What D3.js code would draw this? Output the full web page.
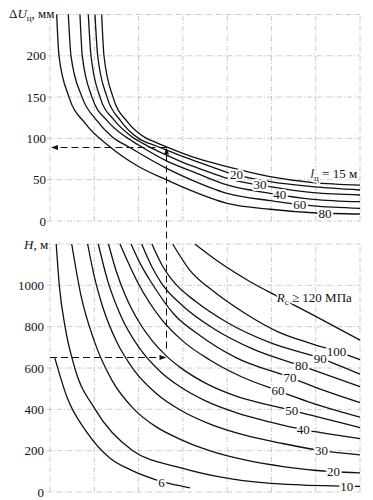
<!DOCTYPE html>
<html><head><meta charset="utf-8">
<script src="https://cdn.jsdelivr.net/npm/d3@7"></script>
<style>
body{margin:0;background:#fff;}
svg text{font-family:"Liberation Serif","Times New Roman",serif;fill:#111;}
</style></head><body>
<svg id="c" width="373" height="500"></svg>
<script>
// ---- data ----
const gridX = [0,1,2,3,4,5,6,7];
const duTicks = [0,50,100,150,200];
const duGrid = [0,50,100,150,200,250];
const hTicks = [0,200,400,600,800,1000];
const hGrid = [0,200,400,600,800,1000,1200];

const lNames = ["15","20","30","40","60","80"];
const l15 = [[1.167,250],[1.219,200],[1.422,150],[1.75,120],[2.15,101],[2.4,95],[2.619,90],[3.2,78],[3.6,71.5],[4.0,65.7],[4.97,53.6],[5.94,46.4],[7,43.5]];
const l20 = [[1.016,250],[1.077,200],[1.287,150],[1.6,121],[2.0,100],[2.4,90.8],[2.62,86],[3.1,76],[3.6,66.5],[4.0,59],[4.97,47.6],[5.94,41.5],[7,37.5]];
const l30 = [[0.865,250],[0.926,200],[1.129,150],[1.45,122],[1.85,102],[2.2,91],[2.62,80],[3.0,71],[3.5,61],[4.0,51.7],[4.97,41.5],[5.94,34.3],[7,31.5]];
const l40 = [[0.677,250],[0.729,200],[0.948,150],[1.3,121],[1.65,104],[2.0,92],[2.62,73],[3.3,58],[4.0,43.6],[4.97,33.5],[5.94,26.3],[7,23.4]];
const l60 = [[0.414,250],[0.474,200],[0.723,150],[1.05,122],[1.4,102],[1.8,89],[2.62,64],[3.1,52],[4.0,33.5],[4.97,24.6],[5.94,18.2],[7,15.3]];
const l80 = [[0.151,250],[0.203,200],[0.429,150],[0.8,118],[1.35,90],[2.0,66],[2.62,50],[3.0,41],[4.0,21.4],[4.97,14.2],[5.94,10],[7,8.5]];
const lCurves = [l15,l20,l30,l40,l60,l80];
const lLabels = [["20",4.21,56.5],["30",4.74,43.8],["40",5.19,31.8],["60",5.64,20.2],["80",6.21,9.6]];

const rNames = ["6","10","20","30","40","50","60","70","80","90","100","120"];
const r6   = [[0.11,648],[0.38,461],[0.83,290],[1.35,165],[1.81,108],[2.41,58],[2.71,40],[3.16,20]];
const r10  = [[0.14,1200],[0.21,1000],[0.34,800],[0.56,600],[1.02,400],[1.87,200],[2.94,118],[4.13,62],[5.26,38],[6.7,28],[7,27]];
const r20  = [[0.49,1200],[0.7,950],[1.0,730],[1.4,540],[1.9,400],[2.4,315],[2.94,255],[3.6,200],[4.4,155],[5.3,122],[6.4,98],[7,93]];
const r30  = [[0.85,1200],[1.0,1043],[1.2,889],[1.5,729],[1.9,589],[2.4,477],[2.94,397],[3.6,330],[4.4,275],[5.2,237],[6.13,200],[7,180]];
const r40  = [[1.09,1200],[1.3,1024],[1.6,852],[2.0,702],[2.5,581],[2.94,509],[3.5,442],[4.2,384],[5.0,337],[5.72,302],[6.4,278],[7,258]];
const r50  = [[1.32,1200],[1.5,1066],[1.69,957],[2.0,826],[2.3,734],[2.62,660],[2.94,603],[3.5,528],[4.2,464],[5.0,418],[5.46,395],[6.2,355],[7,312]];
const r60  = [[1.58,1200],[1.99,1010],[2.5,840],[3.0,730],[3.6,640],[4.3,560],[5.15,490],[6.1,418],[7,362]];
const r70  = [[1.83,1200],[2.05,1100],[2.3,1010],[2.8,860],[3.4,755],[4.2,650],[5.42,555],[6.2,490],[7,432]];
const r80  = [[2.07,1200],[2.3,1090],[2.52,1010],[3.0,900],[3.7,790],[4.6,690],[5.68,610],[7,510]];
const r90  = [[2.3,1200],[2.55,1090],[2.78,1020],[3.3,920],[4.0,820],[5.0,720],[6.1,648],[7,570]];
const r100 = [[2.77,1200],[3.15,1075],[3.7,970],[4.4,865],[5.15,775],[5.9,718],[6.47,680],[7,640]];
const r120 = [[3.27,1200],[3.8,1115],[4.5,1020],[5.2,940],[6.0,850],[7,735]];
const rCurves = [r6,r10,r20,r30,r40,r50,r60,r70,r80,r90,r100,r120];
const rLabels = [["6",2.52,46],["10",6.70,28],["20",6.40,98],["30",6.13,200],["40",5.72,302],["50",5.46,395],["60",5.15,490],["70",5.42,555],["80",5.68,610],["90",6.10,648],["100",6.47,680]];

const example = {x:2.62, du:90, h:655};

// ---- drawing ----
const svg = d3.select("#c");
const x  = d3.scaleLinear().domain([0,7]).range([50,360]);
const yT = d3.scaleLinear().domain([0,250]).range([221,14.5]);
const yB = d3.scaleLinear().domain([0,1200]).range([492,244]);
const gridColor = "#bdbdbd";
const gridDash = "5,2,1,2";

function drawGrid(y, hvals, topVal, topStart){
  const g = svg.append("g");
  g.selectAll("line.h").data(hvals).join("line")
    .attr("x1", d => d===topVal ? topStart : 47).attr("x2", x(7))
    .attr("y1", d => y(d)).attr("y2", d => y(d))
    .attr("stroke", gridColor).attr("stroke-width",0.8).attr("stroke-dasharray", gridDash);
  g.selectAll("line.v").data(gridX).join("line")
    .attr("x1", d => x(d)).attr("x2", d => x(d))
    .attr("y1", y(hvals[0])).attr("y2", y(topVal))
    .attr("stroke", gridColor).attr("stroke-width",0.8).attr("stroke-dasharray", gridDash);
}
drawGrid(yT, duGrid, 250, 56);
drawGrid(yB, hGrid, 1200, 46);

function axis(y, ticks, xoff){
  const a = svg.append("g").attr("transform",`translate(${xoff},0)`)
    .call(d3.axisLeft(y).tickValues(ticks).tickSize(0).tickPadding(0).tickFormat(d3.format("d")));
  a.select(".domain").remove();
  a.selectAll("text").attr("font-family",'"Liberation Serif",serif').attr("font-size",13).attr("fill","#111");
}
axis(yT, duTicks, 46);
axis(yB, hTicks, 44);

const lineT = d3.line().x(d=>x(d[0])).y(d=>yT(d[1])).curve(d3.curveMonotoneX);
const lineB = d3.line().x(d=>x(d[0])).y(d=>yB(d[1])).curve(d3.curveMonotoneX);

svg.append("g").selectAll("path").data(lCurves).join("path")
  .attr("d", lineT).attr("fill","none").attr("stroke","#111").attr("stroke-width",1.3);
svg.append("g").selectAll("path").data(rCurves).join("path")
  .attr("d", lineB).attr("fill","none").attr("stroke","#111").attr("stroke-width",1.3);

// curve labels with white halo (interrupt lines)
function labels(data, y){
  svg.append("g").selectAll("text").data(data).join("text")
    .attr("x", d=>x(d[1])).attr("y", d=>y(d[2]))
    .attr("text-anchor","middle").attr("dominant-baseline","central")
    .attr("font-size",13)
    .attr("stroke","#fff").attr("stroke-width",4).attr("paint-order","stroke")
    .text(d=>d[0]);
}
labels(lLabels, yT);
labels(rLabels, yB);

// example dashed path
const dash = "7,4";
const ex = Math.round(x(example.x)) + 0.5, eyT = Math.round(yT(example.du)) + 0.5, eyB = Math.round(yB(example.h)) + 0.5;
const dg = svg.append("g").attr("stroke","#111").attr("stroke-width",1).attr("stroke-dasharray",dash).attr("fill","none");
dg.append("line").attr("x1",x(0)).attr("x2",ex-5).attr("y1",eyB).attr("y2",eyB);
dg.append("line").attr("x1",ex).attr("x2",ex).attr("y1",eyB-9).attr("y2",eyT+5);
dg.append("line").attr("x1",ex).attr("x2",x(0)+6).attr("y1",eyT).attr("y2",eyT);
const ag = svg.append("g").attr("fill","#111");
ag.append("path").attr("d",`M${ex},${eyB} l-7,-2.5 l0,5 z`);
ag.append("path").attr("d",`M${ex},${eyT} l-2.5,7 l5,0 z`);
ag.append("path").attr("d",`M${x(0)+1},${eyT} l7,-2.5 l0,5 z`);

// titles
const t1 = svg.append("text").attr("x",9).attr("y",18).attr("font-size",13);
t1.append("tspan").text("Δ");
t1.append("tspan").attr("font-style","italic").text("U");
t1.append("tspan").attr("font-size",9).attr("dy",3).text("ц");
t1.append("tspan").attr("dy",-3).text(", мм");

const t2 = svg.append("text").attr("x",24).attr("y",249).attr("font-size",13);
t2.append("tspan").attr("font-style","italic").text("H");
t2.append("tspan").text(", м");

const t3 = svg.append("text").attr("x",x(5.88)).attr("y",yT(52)).attr("font-size",13)
  .attr("stroke","#fff").attr("stroke-width",3).attr("paint-order","stroke");
t3.append("tspan").attr("font-style","italic").text("l");
t3.append("tspan").attr("font-size",9).attr("dy",3).text("ц");
t3.append("tspan").attr("dy",-3).text(" = 15 м");

const t4 = svg.append("text").attr("x",x(5.12)).attr("y",yB(917)).attr("font-size",13)
  .attr("stroke","#fff").attr("stroke-width",3).attr("paint-order","stroke");
t4.append("tspan").attr("font-style","italic").text("R");
t4.append("tspan").attr("font-size",9).attr("dy",3).text("с");
t4.append("tspan").attr("dy",-3).text(" ≥ 120 МПа");
</script>
</body></html>
